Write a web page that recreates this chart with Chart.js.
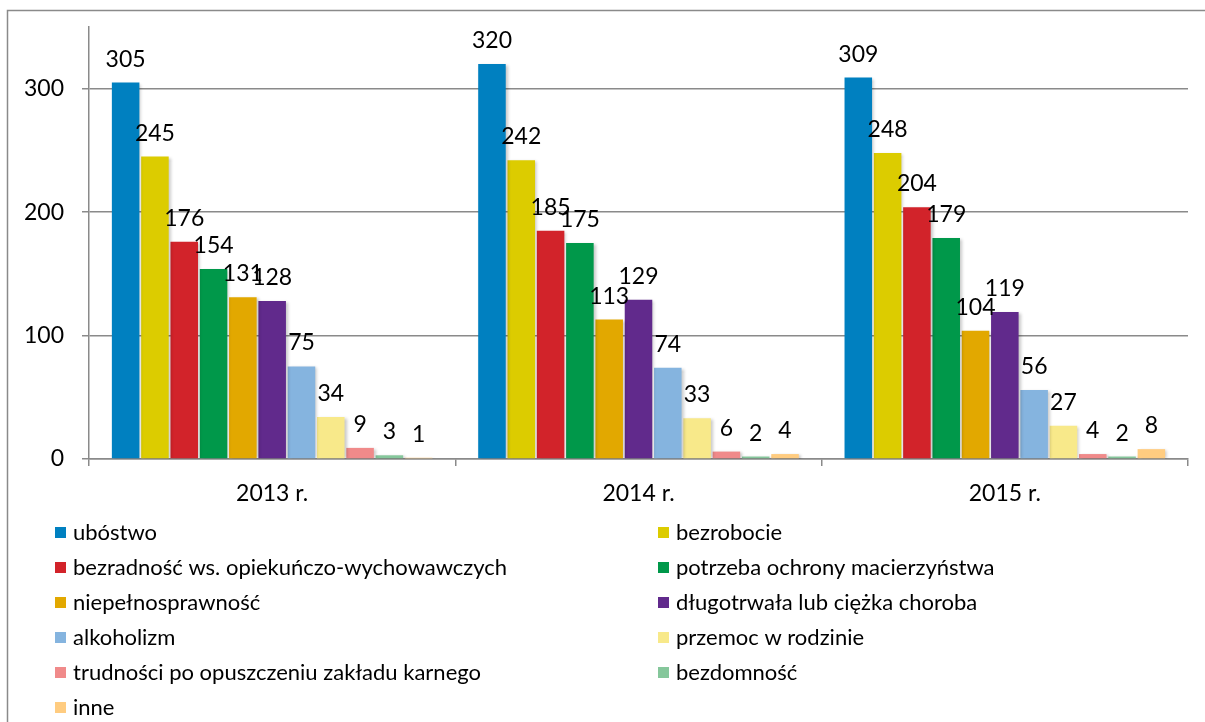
<!DOCTYPE html>
<html>
<head>
<meta charset="utf-8">
<script src="https://cdn.jsdelivr.net/npm/chart.js@4.4.0/dist/chart.umd.min.js"></script>
<style>
  html, body { margin: 0; padding: 0; background: #fff; }
  #wrap { width: 1205px; height: 722px; position: relative; }
</style>
</head>
<body>
<div id="wrap"><canvas id="wykres"></canvas></div>
<script>
// lata
var lata = ['2013 r.', '2014 r.', '2015 r.'];

// powody udzielenia pomocy i kolory
var powody = [
  'ubóstwo',
  'bezrobocie',
  'bezradność ws. opiekuńczo-wychowawczych',
  'potrzeba ochrony macierzyństwa',
  'niepełnosprawność',
  'długotrwała lub ciężka choroba',
  'alkoholizm',
  'przemoc w rodzinie',
  'trudności po opuszczeniu zakładu karnego',
  'bezdomność',
  'inne'
];
var kolory = ['#0080c0', '#dccc00', '#d2232a', '#00984a', '#e2a800', '#612a8c',
              '#85b4df', '#f8e98a', '#f08a8a', '#85c79b', '#ffcc80'];

// liczby na rok, jedna tablica na powód
var ubostwo       = [305, 320, 309];
var bezrobocie    = [245, 242, 248];
var bezradnosc    = [176, 185, 204];
var macierzynstwo = [154, 175, 179];
var niepelnospr   = [131, 113, 104];
var choroba       = [128, 129, 119];
var alkoholizm    = [75, 74, 56];
var przemoc       = [34, 33, 27];
var trudnosci     = [9, 6, 4];
var bezdomnosc    = [3, 2, 2];
var inne          = [1, 4, 8];

var wartosci = [ubostwo, bezrobocie, bezradnosc, macierzynstwo, niepelnospr,
                choroba, alkoholizm, przemoc, trudnosci, bezdomnosc, inne];

var czcionka = 'Lato';
var szary = '#8a8a8a';

var zbiory = powody.map(function (p, i) {
  return {
    label: p,
    data: wartosci[i],
    backgroundColor: kolory[i],
    borderWidth: 0,
    barPercentage: 0.94,
    categoryPercentage: 0.88
  };
});

// ramka, cien slupkow, etykiety wartosci, legenda w dwoch kolumnach
var dodatki = {
  id: 'dodatki',
  beforeDraw: function (chart) {
    var ctx = chart.ctx;
    ctx.save();
    ctx.strokeStyle = szary;
    ctx.lineWidth = 1.5;
    ctx.strokeRect(7.5, 10.5, 1300, 800);
    ctx.restore();
  },
  beforeDatasetsDraw: function (chart) {
    var ctx = chart.ctx;
    ctx.save();
    ctx.shadowColor = 'rgba(0,0,0,0.22)';
    ctx.shadowBlur = 3;
    ctx.shadowOffsetX = 2;
    ctx.shadowOffsetY = 1;
  },
  afterDatasetsDraw: function (chart) {
    var ctx = chart.ctx;
    ctx.restore();
    ctx.save();
    ctx.font = '23px ' + czcionka;
    ctx.fillStyle = '#000';
    ctx.textAlign = 'center';
    ctx.textBaseline = 'alphabetic';
    chart.data.datasets.forEach(function (ds, i) {
      chart.getDatasetMeta(i).data.forEach(function (bar, j) {
        ctx.fillText(String(ds.data[j]), bar.x, bar.y - 16);
      });
    });
    ctx.restore();
  },
  afterDraw: function (chart) {
    var ctx = chart.ctx;
    var y0 = chart.chartArea.bottom + 73;
    ctx.save();
    ctx.font = '22px ' + czcionka;
    ctx.textBaseline = 'middle';
    ctx.textAlign = 'left';
    chart.data.datasets.forEach(function (ds, i) {
      var kol = i % 2;
      var wiersz = Math.floor(i / 2);
      var x = kol === 0 ? 55 : 658;
      var y = y0 + wiersz * 35;
      ctx.fillStyle = ds.backgroundColor;
      ctx.fillRect(x, y - 5, 11, 11);
      ctx.fillStyle = '#000';
      ctx.fillText(ds.label, x + 18, y + 1);
    });
    ctx.restore();
  }
};

new Chart(document.getElementById('wykres'), {
  type: 'bar',
  data: { labels: lata, datasets: zbiory },
  options: {
    responsive: true,
    maintainAspectRatio: false,
    animation: false,
    layout: { padding: { top: 27, right: 17, left: 0, bottom: 208 } },
    plugins: {
      legend: { display: false },
      tooltip: { enabled: false }
    },
    scales: {
      x: {
        grid: { offset: true, drawOnChartArea: false, color: szary, lineWidth: 1.5, tickLength: 7 },
        border: { color: szary, width: 1.5 },
        ticks: { color: '#000', font: { family: czcionka, size: 23 }, padding: 14 },
        afterFit: function (s) { s.height = 55; }
      },
      y: {
        min: 0,
        max: 350,
        ticks: { stepSize: 100, color: '#000', font: { family: czcionka, size: 23 }, padding: 18 },
        afterBuildTicks: function (s) {
          s.ticks = s.ticks.filter(function (t) { return t.value % 100 === 0; });
        },
        grid: { color: szary, lineWidth: 1.5, tickLength: 7 },
        border: { color: szary, width: 1.5 },
        afterFit: function (s) { s.width = 89; s.paddingTop = 0; s.paddingBottom = 0; }
      }
    }
  },
  plugins: [dodatki]
});
</script>
</body>
</html>
